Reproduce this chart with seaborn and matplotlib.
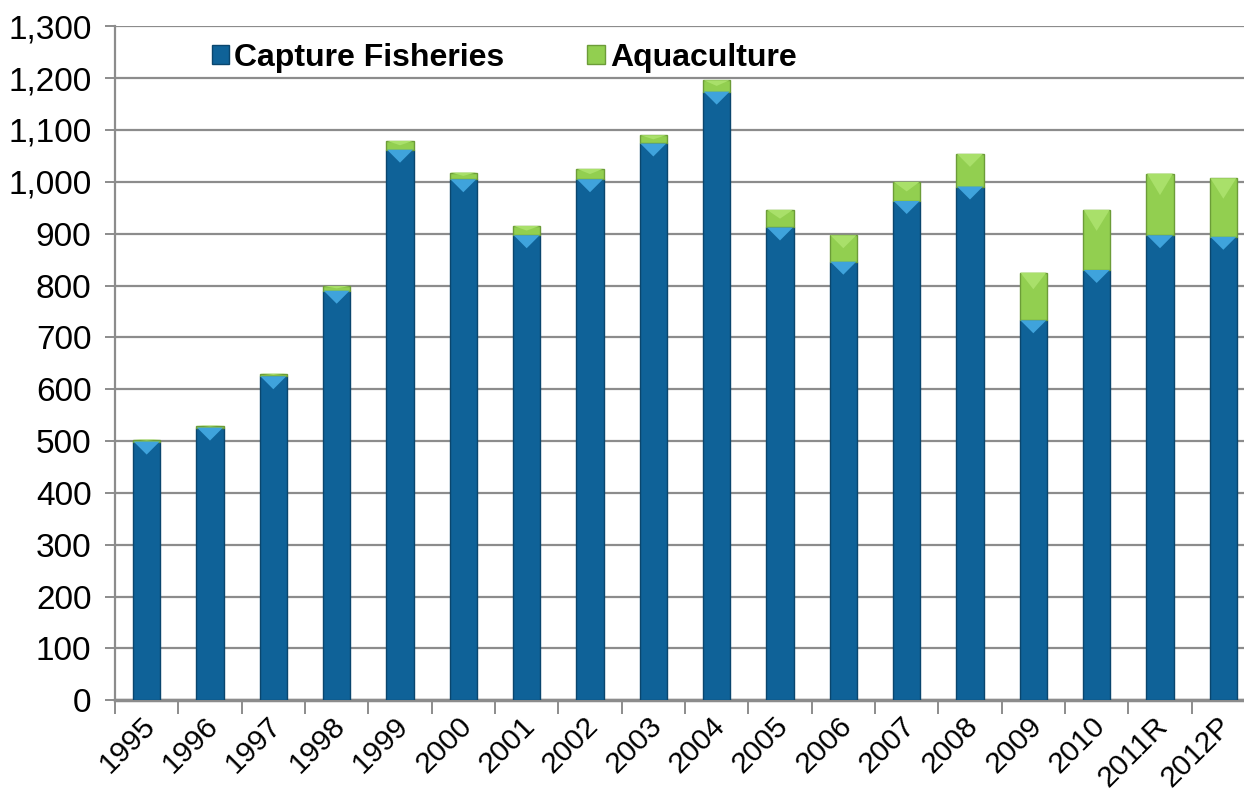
import numpy as np
import pandas as pd
import matplotlib
matplotlib.use("Agg")
import matplotlib.pyplot as plt
from matplotlib.ticker import FuncFormatter, FixedLocator
from matplotlib.patches import Patch, Polygon
from matplotlib.transforms import ScaledTranslation
import seaborn as sns

# Fish production by source (thousand tonnes)
years = ["1995", "1996", "1997", "1998", "1999", "2000", "2001", "2002", "2003",
         "2004", "2005", "2006", "2007", "2008", "2009", "2010", "2011R", "2012P"]
capture = [499, 526, 625, 790, 1062, 1005, 897, 1005, 1074,
           1174, 912, 846, 963, 991, 733, 830, 897, 894]
aquaculture = [4, 4, 5, 9, 17, 13, 18, 20, 16,
               22, 34, 51, 37, 63, 92, 116, 119, 113]

series_names = ["Capture Fisheries", "Aquaculture"]
blue = "#0F6298"
blue_edge = "#0A466E"
blue_light = "#3FA3DC"
green = "#92CF50"
green_edge = "#6C9C38"
green_light = "#A9E06A"

df = pd.DataFrame({"year": years, "capture": capture, "aquaculture": aquaculture})

sns.set_style("white")
plt.rcParams["font.family"] = ["Liberation Sans", "DejaVu Sans"]

fig = plt.figure(figsize=(12.44, 7.92), dpi=100)
ax = fig.add_axes([115 / 1244, 1 - 700.3 / 792, 1140 / 1244, 674 / 792])

sns.barplot(data=df, x="year", y="capture", color=blue, width=0.43,
            edgecolor=blue_edge, linewidth=1.0, saturation=1, ax=ax, zorder=3)
sns.barplot(data=df, x="year", y="aquaculture", bottom=df["capture"], color=green,
            width=0.43, edgecolor=green_edge, linewidth=1.0, saturation=1, ax=ax, zorder=3)

ax.set_ylim(0, 1300)
ax.set_xlim(-0.5, len(years) - 0.5)

# Bevel highlight: a light chevron at the top of each bar segment
px_per_unit = 674 / 1300
bevel = 13 / px_per_unit
for container, light in zip(ax.containers, [blue_light, green_light]):
    for rect in container.patches:
        x0 = rect.get_x()
        w = rect.get_width()
        h = rect.get_height()
        top = rect.get_y() + h
        if light == green_light:
            depth = min(h * 0.5, max(bevel, h * 0.35))
        else:
            depth = min(bevel, h)
        tri = Polygon([(x0 + 0.01, top), (x0 + w - 0.01, top), (x0 + w / 2, top - depth)],
                      closed=True, facecolor=light, edgecolor="none", zorder=4)
        ax.add_patch(tri)

ax.set_yticks(np.arange(0, 1301, 100))
ax.yaxis.set_major_formatter(FuncFormatter(lambda v, p: f"{int(v):,}"))
ax.grid(axis="y", color="#8C8C8C", linewidth=1.6, zorder=0)
ax.grid(axis="x", visible=False)
ax.set_axisbelow(True)

ax.set_xlabel("")
ax.set_ylabel("")

for s in ["top", "right"]:
    ax.spines[s].set_visible(False)
ax.spines["left"].set_color("#8C8C8C")
ax.spines["left"].set_linewidth(1.6)
ax.spines["bottom"].set_color("#8C8C8C")
ax.spines["bottom"].set_linewidth(2.5)

ax.tick_params(axis="y", which="major", labelsize=24, length=7, width=1.4,
               color="#8C8C8C", pad=10, left=True, direction="out", labelcolor="black")
ax.tick_params(axis="x", which="major", labelsize=21.5, length=0, pad=8, labelcolor="black")
ax.xaxis.set_minor_locator(FixedLocator(np.arange(-0.5, len(years), 1.0)))
ax.tick_params(axis="x", which="minor", length=10, width=1.4, color="#8C8C8C",
               bottom=True, direction="out")
shift = ScaledTranslation(-6 / 100, 0, fig.dpi_scale_trans)
for lbl in ax.get_xticklabels():
    lbl.set_rotation(45)
    lbl.set_ha("right")
    lbl.set_rotation_mode("anchor")
    lbl.set_transform(lbl.get_transform() + shift)

handles = [Patch(facecolor=blue, edgecolor=blue_edge),
           Patch(facecolor=green, edgecolor=green_edge)]
fig.legend(handles, series_names, loc="center left",
           bbox_to_anchor=(183 / 1244, 1 - 58 / 792), ncol=2, frameon=False,
           prop={"weight": "bold", "size": 23}, handlelength=0.55, handleheight=0.55,
           handletextpad=0.15, columnspacing=2.6, labelcolor="black")

fig.savefig("out.png", dpi=100)
